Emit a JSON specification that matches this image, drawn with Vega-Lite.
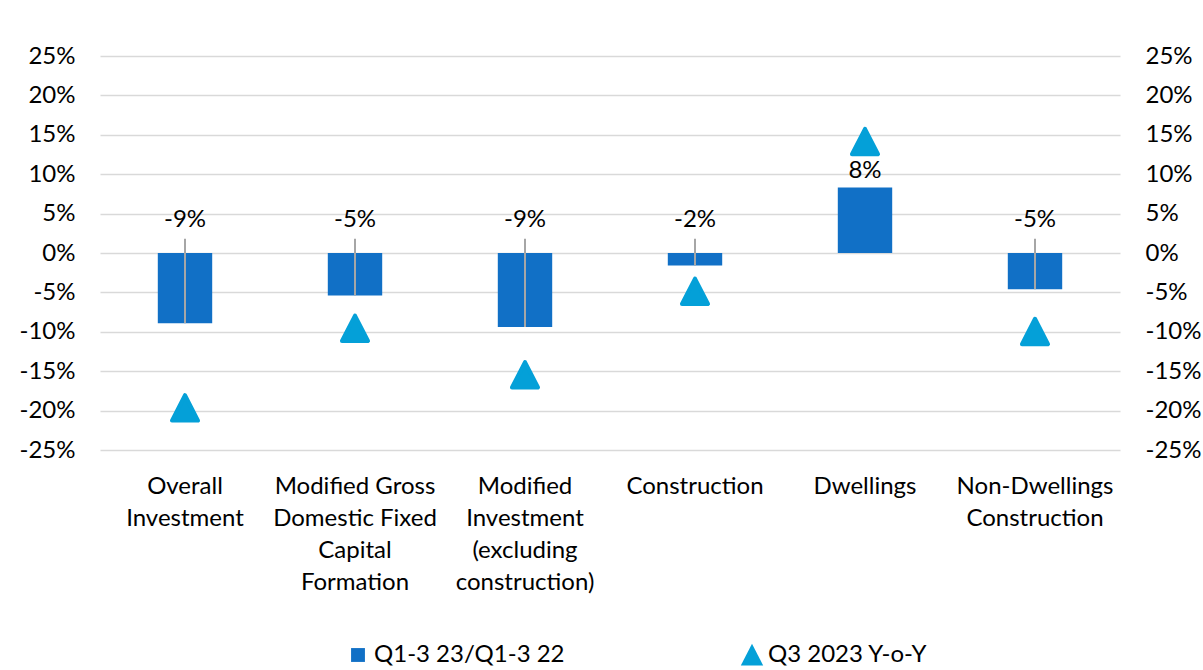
{
  "$schema": "https://vega.github.io/schema/vega-lite/v6.json",
  "autosize": "none",
  "width": 1020,
  "height": 394,
  "padding": {"left": 100, "top": 56, "right": 83, "bottom": 220},
  "background": "white",
  "config": {
    "font": "Lato",
    "view": {"stroke": null},
    "axis": {"labelFont": "Lato", "labelFontSize": 24, "labelColor": "#000000"},
    "legend": {"labelFont": "Lato", "labelFontSize": 24, "labelColor": "#000000"}
  },
  "data": {
    "values": [
      {"cat": "Overall|Investment", "bar": -8.9, "tri": -19.7},
      {"cat": "Modified Gross|Domestic Fixed|Capital|Formation", "bar": -5.4, "tri": -9.6},
      {"cat": "Modified|Investment|(excluding|construction)", "bar": -9.4, "tri": -15.5},
      {"cat": "Construction", "bar": -1.6, "tri": -4.9},
      {"cat": "Dwellings", "bar": 8.3, "tri": 14.1},
      {"cat": "Non-Dwellings|Construction", "bar": -4.6, "tri": -10.0}
    ]
  },
  "transform": [
    {"calculate": "datum.bar < 0 ? 4.2 : datum.bar + 2.1", "as": "labelY"},
    {"calculate": "datum.labelY - 2.4", "as": "leaderTop"},
    {"calculate": "round(datum.bar) + '%'", "as": "barLabel"}
  ],
  "encoding": {
    "x": {
      "field": "cat",
      "type": "nominal",
      "sort": null,
      "scale": {"paddingInner": 0.68, "paddingOuter": 0.34},
      "axis": {
        "title": null,
        "domain": false,
        "ticks": false,
        "labelAngle": 0,
        "labelPadding": 24,
        "labelLimit": 400,
        "labelLineHeight": 32,
        "labelExpr": "split(datum.label, '|')"
      }
    }
  },
  "layer": [
    {
      "mark": {"type": "bar"},
      "encoding": {
        "y": {
          "field": "bar",
          "type": "quantitative",
          "scale": {"domain": [-25, 25], "nice": false, "zero": false},
          "axis": {
            "orient": "left",
            "title": null,
            "values": [-25, -20, -15, -10, -5, 0, 5, 10, 15, 20, 25],
            "labelExpr": "datum.value + '%'",
            "domain": false,
            "ticks": false,
            "grid": true,
            "gridColor": "#d9d9d9",
            "gridWidth": 1.5,
            "labelPadding": 25
          }
        },
        "color": {
          "datum": "Q1-3 23/Q1-3 22",
          "scale": {"domain": ["Q1-3 23/Q1-3 22", "Q3 2023 Y-o-Y"], "range": ["#1170c6", "#04a0d8"]},
          "legend": {
            "title": null,
            "orient": "none",
            "legendX": 246,
            "legendY": 587,
            "direction": "horizontal",
            "columns": 2,
            "columnPadding": 175,
            "labelOffset": 4,
            "labelLimit": 400,
            "symbolSize": 500,
            "symbolStrokeWidth": 0
          }
        }
      }
    },
    {
      "transform": [{"filter": "datum.bar < 0"}],
      "mark": {"type": "rule", "color": "#a6a6a6", "strokeWidth": 2},
      "encoding": {
        "y": {"field": "bar", "type": "quantitative", "axis": null},
        "y2": {"field": "leaderTop"}
      }
    },
    {
      "mark": {"type": "text", "fontSize": 24, "font": "Lato", "color": "#000000", "baseline": "middle"},
      "encoding": {
        "y": {"field": "labelY", "type": "quantitative", "axis": null},
        "text": {"field": "barLabel"}
      }
    },
    {
      "mark": {"type": "point", "filled": true, "size": 680, "opacity": 1, "strokeWidth": 4, "strokeJoin": "round"},
      "encoding": {
        "y": {
          "field": "tri",
          "type": "quantitative",
          "axis": {
            "orient": "right",
            "title": null,
            "values": [-25, -20, -15, -10, -5, 0, 5, 10, 15, 20, 25],
            "labelExpr": "datum.value + '%'",
            "domain": false,
            "ticks": false,
            "grid": false,
            "labelPadding": 25,
            "labelAlign": "left"
          }
        },
        "color": {"datum": "Q3 2023 Y-o-Y"},
        "stroke": {"value": "#04a0d8"},
        "shape": {
          "datum": "Q3 2023 Y-o-Y",
          "scale": {
            "domain": ["Q1-3 23/Q1-3 22", "Q3 2023 Y-o-Y"],
            "range": ["M-0.62,-0.62L0.62,-0.62L0.62,0.62L-0.62,0.62Z", "M0,-1L1,0.95L-1,0.95Z"]
          },
          "legend": {"title": null}
        }
      }
    }
  ],
  "resolve": {"axis": {"y": "independent"}}
}
